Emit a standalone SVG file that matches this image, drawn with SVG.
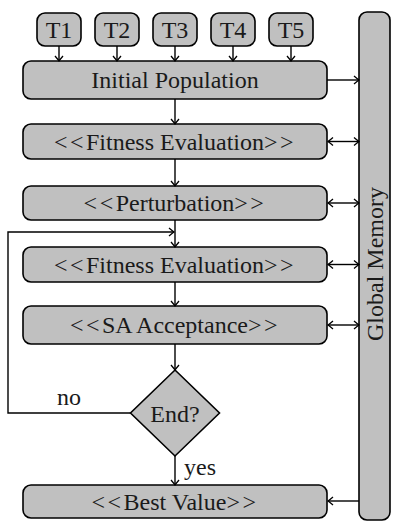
<svg xmlns="http://www.w3.org/2000/svg" width="396" height="523" viewBox="0 0 396 523">
<defs>
<style>
.box{fill:#c0c0c0;stroke:#000;stroke-width:1.6}
.t{font-size:24px;fill:#1a1a1a;text-anchor:middle}
.lbl{font-size:24px;fill:#1a1a1a}
.c{fill:none;stroke:#000;stroke-width:1.4}
.ls{letter-spacing:2.5px}
</style>
<marker id="ah" viewBox="-6 -5 7 10" refX="0" refY="0" markerWidth="7" markerHeight="10" markerUnits="userSpaceOnUse" orient="auto-start-reverse">
<path d="M-5,-4 Q-1.5,-1 0,0 Q-1.5,1 -5,4" fill="none" stroke="#000" stroke-width="1.3"/>
</marker>
</defs>
<g font-family="'Liberation Serif', 'Times New Roman', serif">
<g id="memory"><rect class="box" x="359" y="12" width="31" height="508" rx="8"/><text class="t" transform="translate(383,264) rotate(-90)">Global Memory</text></g>
<g id="T1"><rect class="box" x="37" y="13" width="44" height="33" rx="8"/><text class="t" x="59" y="38">T1</text></g>
<g id="T2"><rect class="box" x="95" y="13" width="44" height="33" rx="8"/><text class="t" x="117" y="38">T2</text></g>
<g id="T3"><rect class="box" x="153" y="13" width="44" height="33" rx="8"/><text class="t" x="175" y="38">T3</text></g>
<g id="T4"><rect class="box" x="211" y="13" width="44" height="33" rx="8"/><text class="t" x="233" y="38">T4</text></g>
<g id="T5"><rect class="box" x="269" y="13" width="44" height="33" rx="8"/><text class="t" x="291" y="38">T5</text></g>
<g id="init"><rect class="box" x="23" y="61" width="304" height="38" rx="8"/><text class="t" x="175" y="88">Initial Population</text></g>
<g id="fit1"><rect class="box" x="23" y="124" width="304" height="35" rx="8"/><text class="t" x="175" y="150"><tspan class="ls">&lt;&lt;</tspan>Fitness Evaluation<tspan class="ls">&gt;&gt;</tspan></text></g>
<g id="pert"><rect class="box" x="23" y="186" width="304" height="34" rx="8"/><text class="t" x="175" y="211"><tspan class="ls">&lt;&lt;</tspan>Perturbation<tspan class="ls">&gt;&gt;</tspan></text></g>
<g id="fit2"><rect class="box" x="23" y="247" width="304" height="35" rx="8"/><text class="t" x="175" y="273"><tspan class="ls">&lt;&lt;</tspan>Fitness Evaluation<tspan class="ls">&gt;&gt;</tspan></text></g>
<g id="sa"><rect class="box" x="23" y="306" width="304" height="38" rx="8"/><text class="t" x="175" y="333"><tspan class="ls">&lt;&lt;</tspan>SA Acceptance<tspan class="ls">&gt;&gt;</tspan></text></g>
<g id="end"><polygon class="box" points="175,370 219.5,413 175,456 130.5,413"/><text class="t" x="175" y="422">End?</text></g>
<g id="best"><rect class="box" x="23" y="485" width="304" height="33" rx="8"/><text class="t" x="175" y="510"><tspan class="ls">&lt;&lt;</tspan>Best Value<tspan class="ls">&gt;&gt;</tspan></text></g>
<text class="lbl" x="57" y="405">no</text>
<text class="lbl" x="184" y="475">yes</text>
</g>
<g id="connectors">
<line class="c" x1="59" y1="46" x2="59" y2="61" marker-end="url(#ah)"/>
<line class="c" x1="117" y1="46" x2="117" y2="61" marker-end="url(#ah)"/>
<line class="c" x1="175" y1="46" x2="175" y2="61" marker-end="url(#ah)"/>
<line class="c" x1="233" y1="46" x2="233" y2="61" marker-end="url(#ah)"/>
<line class="c" x1="291" y1="46" x2="291" y2="61" marker-end="url(#ah)"/>
<line class="c" x1="175" y1="99" x2="175" y2="124" marker-end="url(#ah)"/>
<line class="c" x1="175" y1="159" x2="175" y2="186" marker-end="url(#ah)"/>
<line class="c" x1="175" y1="220" x2="175" y2="247" marker-end="url(#ah)"/>
<line class="c" x1="175" y1="282" x2="175" y2="306" marker-end="url(#ah)"/>
<line class="c" x1="175" y1="344" x2="175" y2="370" marker-end="url(#ah)"/>
<line class="c" x1="175" y1="456" x2="175" y2="485" marker-end="url(#ah)"/>
<polyline class="c" points="130.5,413 8,413 8,232 174,232" marker-end="url(#ah)"/>
<line class="c" x1="327" y1="80" x2="359" y2="80" marker-end="url(#ah)"/>
<line class="c" x1="328" y1="141.5" x2="359" y2="141.5" marker-start="url(#ah)" marker-end="url(#ah)"/>
<line class="c" x1="328" y1="203" x2="359" y2="203" marker-start="url(#ah)" marker-end="url(#ah)"/>
<line class="c" x1="328" y1="264.5" x2="359" y2="264.5" marker-start="url(#ah)" marker-end="url(#ah)"/>
<line class="c" x1="328" y1="325" x2="359" y2="325" marker-start="url(#ah)" marker-end="url(#ah)"/>
<line class="c" x1="359" y1="501" x2="328" y2="501" marker-end="url(#ah)"/>
</g>
</svg>
